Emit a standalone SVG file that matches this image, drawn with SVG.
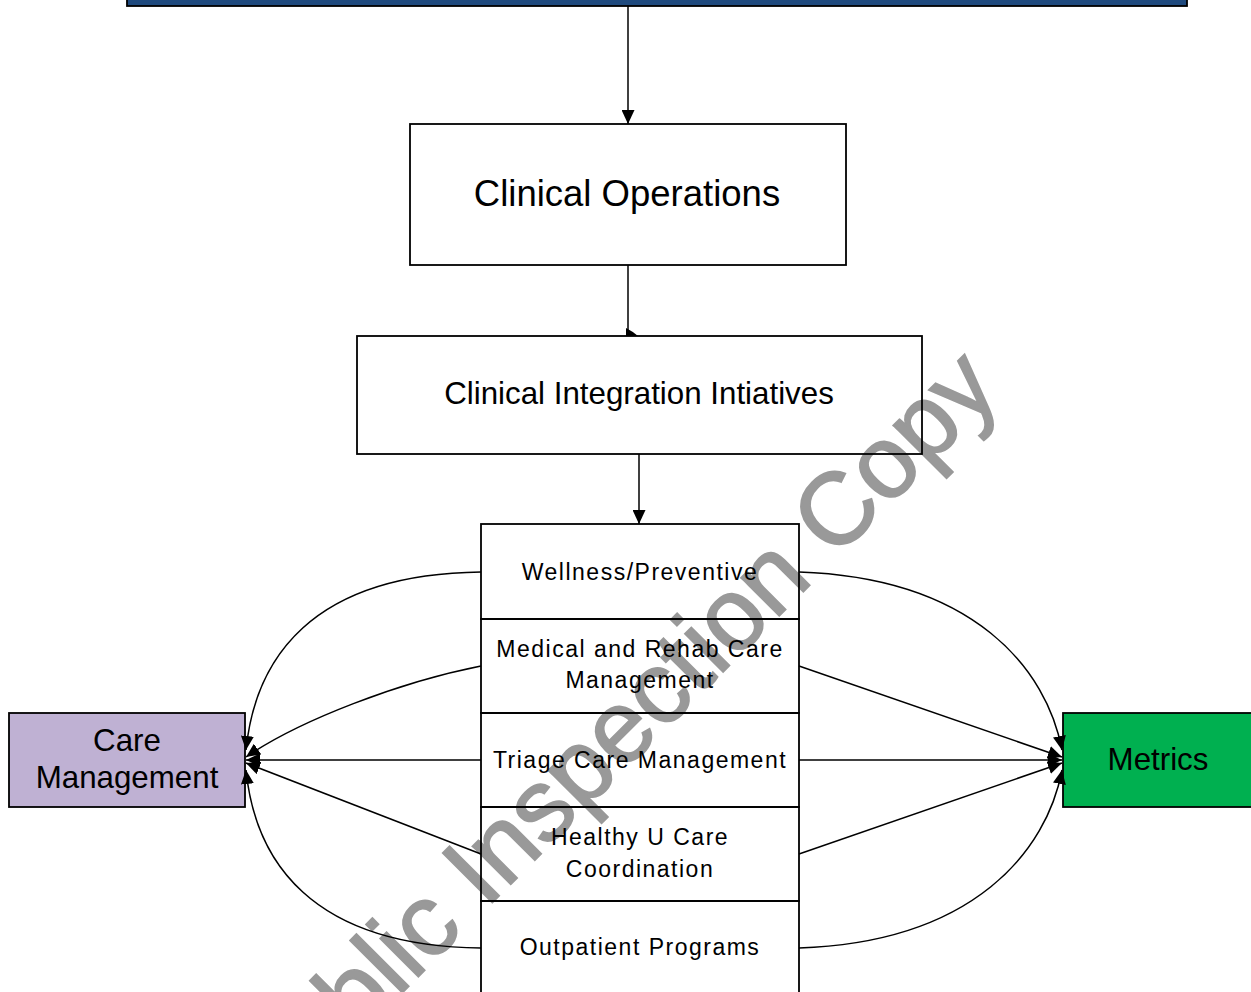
<svg xmlns="http://www.w3.org/2000/svg" width="1251" height="992" viewBox="0 0 1251 992">
<style>
.box{fill:none;stroke:#000;stroke-width:1.8}
.t{font-family:"Liberation Sans",Arial,sans-serif;fill:#000;text-anchor:middle}
.big{font-size:36.5px}
.mid{font-size:31.3px}
.sm{font-size:23px;letter-spacing:1.5px}
.ln{fill:none;stroke:#000;stroke-width:1.5}
.wm{font-family:"Liberation Sans",Arial,sans-serif;font-size:102px;fill:#999;stroke:#999;stroke-width:1.8;text-anchor:middle}
</style>
<defs>
<marker id="ah" markerUnits="userSpaceOnUse" markerWidth="15" markerHeight="13" refX="14" refY="6.5" orient="auto">
<path d="M0,0 L14,6.5 L0,13 z" fill="#000"/>
</marker>
</defs>
<rect x="0" y="0" width="1251" height="992" fill="#fff"/>
<text class="wm" x="0" y="0" transform="translate(636 759) rotate(-45)">Public Inspection Copy</text>
<g id="top-bar">
<rect x="127" y="-10" width="1060" height="16" fill="#1f4a7e" stroke="#000" stroke-width="1.8"/>
</g>
<g id="clinical-operations">
<rect class="box" x="410" y="124" width="436" height="141"/>
<text class="t big" x="627" y="206">Clinical Operations</text>
</g>
<g id="clinical-integration">
<rect class="box" x="357" y="336" width="565" height="118"/>
<text class="t mid" x="639" y="404">Clinical Integration Intiatives</text>
</g>
<g id="wellness">
<rect class="box" x="481" y="524" width="318" height="95"/>
<text class="t sm" x="640" y="580">Wellness/Preventive</text>
</g>
<g id="medical-rehab">
<rect class="box" x="481" y="619" width="318" height="94"/>
<text class="t sm" x="640" y="657">Medical and Rehab Care</text>
<text class="t sm" x="640" y="688">Management</text>
</g>
<g id="triage">
<rect class="box" x="481" y="713" width="318" height="94"/>
<text class="t sm" x="640" y="768">Triage Care Management</text>
</g>
<g id="healthy-u">
<rect class="box" x="481" y="807" width="318" height="94"/>
<text class="t sm" x="640" y="845">Healthy U Care</text>
<text class="t sm" x="640" y="877">Coordination</text>
</g>
<g id="outpatient">
<rect class="box" x="481" y="901" width="318" height="110"/>
<text class="t sm" x="640" y="955">Outpatient Programs</text>
</g>
<g id="care-management">
<rect x="9" y="713" width="236" height="94" fill="#bfb1d3" stroke="#000" stroke-width="1.8"/>
<text class="t mid" x="127" y="751">Care</text>
<text class="t mid" x="127" y="788">Management</text>
</g>
<g id="metrics">
<rect x="1063" y="713" width="200" height="94" fill="#00b050" stroke="#000" stroke-width="1.8"/>
<text class="t mid" x="1158" y="770">Metrics</text>
</g>
<g id="connectors">
<path class="ln" d="M628,6 L628,124" marker-end="url(#ah)"/>
<path class="ln" d="M628,265 L628,336"/>
<path d="M626,328 L626,336 L638,336 Q632,331 626,328 z" fill="#000"/>
<path class="ln" d="M639,454 L639,524" marker-end="url(#ah)"/>
<path class="ln" d="M481,572 C310,574 255,660 246,750" marker-end="url(#ah)"/>
<path class="ln" d="M481,666 C400,682 300,720 246,757" marker-end="url(#ah)"/>
<path class="ln" d="M481,760 L246,760" marker-end="url(#ah)"/>
<path class="ln" d="M481,854 L246,763" marker-end="url(#ah)"/>
<path class="ln" d="M481,948 C310,946 255,860 246,770" marker-end="url(#ah)"/>
<path class="ln" d="M799,572 C975,578 1047,670 1062,750" marker-end="url(#ah)"/>
<path class="ln" d="M799,666 L1062,757" marker-end="url(#ah)"/>
<path class="ln" d="M799,760 L1062,760" marker-end="url(#ah)"/>
<path class="ln" d="M799,854 L1062,763" marker-end="url(#ah)"/>
<path class="ln" d="M799,948 C975,942 1047,850 1062,770" marker-end="url(#ah)"/>
</g>
</svg>
